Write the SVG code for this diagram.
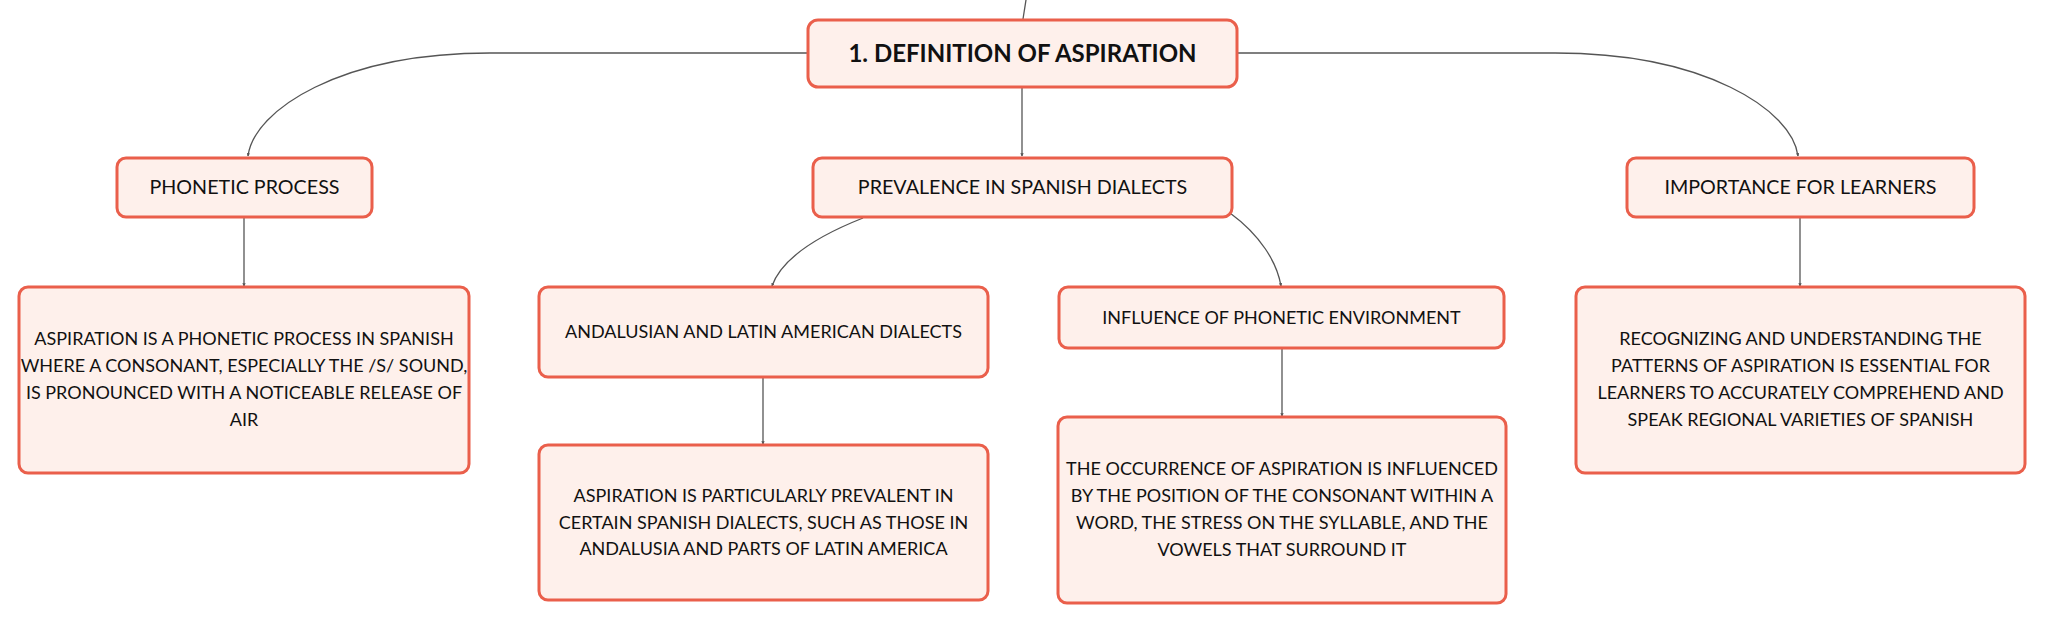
<svg xmlns="http://www.w3.org/2000/svg" width="2046" height="624" viewBox="0 0 2046 624">
<style>
.box{fill:#FEF0EB;stroke:#EA5F4B;stroke-width:3}
.t{font-family:Lato,"Open Sans",sans-serif;fill:#111;text-anchor:middle}
.b{font-size:18px}
.m{font-size:19.7px}
.r{font-size:24px;font-weight:bold}
.c{fill:none;stroke:#555;stroke-width:1.3;marker-end:url(#a)}
</style>
<defs>
<marker id="a" viewBox="0 0 6 6" refX="5" refY="3" markerWidth="2.6" markerHeight="2.6" orient="auto">
<path d="M0,0 L6,3 L0,6 z" fill="#555"/>
</marker>
</defs>
<rect width="2046" height="624" fill="#fff"/>
<g id="connectors">
<path class="c" d="M1026,0 L1023,19" style="marker-end:none"/>
<path class="c" d="M808,53 H490 C340,53 254,110 248,156"/>
<path class="c" d="M1237,53 H1555 C1705,53 1792,110 1798,156"/>
<path class="c" d="M1022,88 V156"/>
<path class="c" d="M244,218 V286"/>
<path class="c" d="M863,218 C820,235 782,258 772,286"/>
<path class="c" d="M1230,213 C1260,235 1277,262 1281,286"/>
<path class="c" d="M763,378 V444"/>
<path class="c" d="M1282,349 V416"/>
<path class="c" d="M1800,218 V286"/>
</g>
<g id="root">
<rect class="box" x="808" y="20" width="429" height="67" rx="10"/>
<text class="t r" x="1022.5" y="62">1. DEFINITION OF ASPIRATION</text>
</g>
<g id="phonetic-process">
<rect class="box" x="117" y="158" width="255" height="59" rx="9"/>
<text class="t m" x="244.5" y="194">PHONETIC PROCESS</text>
</g>
<g id="prevalence">
<rect class="box" x="813" y="158" width="419" height="59" rx="9"/>
<text class="t m" x="1022.5" y="194">PREVALENCE IN SPANISH DIALECTS</text>
</g>
<g id="importance">
<rect class="box" x="1627" y="158" width="347" height="59" rx="9"/>
<text class="t m" x="1800.5" y="194">IMPORTANCE FOR LEARNERS</text>
</g>
<g id="phonetic-desc">
<rect class="box" x="19" y="287" width="450" height="186" rx="9"/>
<text class="t b" x="244" y="345">ASPIRATION IS A PHONETIC PROCESS IN SPANISH</text>
<text class="t b" x="244" y="372">WHERE A CONSONANT, ESPECIALLY THE /S/ SOUND,</text>
<text class="t b" x="244" y="399">IS PRONOUNCED WITH A NOTICEABLE RELEASE OF</text>
<text class="t b" x="244" y="426">AIR</text>
</g>
<g id="andalusian">
<rect class="box" x="539" y="287" width="449" height="90" rx="9"/>
<text class="t b" x="763.5" y="337.5">ANDALUSIAN AND LATIN AMERICAN DIALECTS</text>
</g>
<g id="prevalent-desc">
<rect class="box" x="539" y="445" width="449" height="155" rx="9"/>
<text class="t b" x="763.5" y="502">ASPIRATION IS PARTICULARLY PREVALENT IN</text>
<text class="t b" x="763.5" y="529">CERTAIN SPANISH DIALECTS, SUCH AS THOSE IN</text>
<text class="t b" x="763.5" y="555">ANDALUSIA AND PARTS OF LATIN AMERICA</text>
</g>
<g id="influence">
<rect class="box" x="1059" y="287" width="445" height="61" rx="9"/>
<text class="t b" x="1281.5" y="323.5">INFLUENCE OF PHONETIC ENVIRONMENT</text>
</g>
<g id="occurrence-desc">
<rect class="box" x="1058" y="417" width="448" height="186" rx="9"/>
<text class="t b" x="1282" y="475">THE OCCURRENCE OF ASPIRATION IS INFLUENCED</text>
<text class="t b" x="1282" y="502">BY THE POSITION OF THE CONSONANT WITHIN A</text>
<text class="t b" x="1282" y="529">WORD, THE STRESS ON THE SYLLABLE, AND THE</text>
<text class="t b" x="1282" y="556">VOWELS THAT SURROUND IT</text>
</g>
<g id="recognizing-desc">
<rect class="box" x="1576" y="287" width="449" height="186" rx="9"/>
<text class="t b" x="1800.5" y="345">RECOGNIZING AND UNDERSTANDING THE</text>
<text class="t b" x="1800.5" y="372">PATTERNS OF ASPIRATION IS ESSENTIAL FOR</text>
<text class="t b" x="1800.5" y="399">LEARNERS TO ACCURATELY COMPREHEND AND</text>
<text class="t b" x="1800.5" y="426">SPEAK REGIONAL VARIETIES OF SPANISH</text>
</g>
</svg>
